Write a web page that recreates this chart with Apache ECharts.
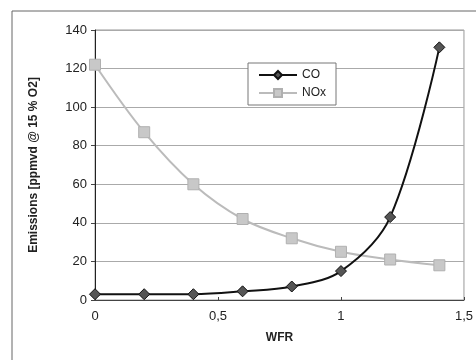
<!DOCTYPE html>
<html>
<head>
<meta charset="utf-8">
<script src="https://cdn.jsdelivr.net/npm/echarts@6/dist/echarts.min.js"></script>
<style>
  html, body { margin: 0; padding: 0; background: #fff; }
  #chart { width: 476px; height: 360px; }
</style>
</head>
<body>
<div id="chart"></div>
<script>
const wfr = [0, 0.2, 0.4, 0.6, 0.8, 1.0, 1.2, 1.4]
const co = [3, 3, 3, 4.5, 7, 15, 43, 131]
const nox = [122, 87, 60, 42, 32, 25, 21, 18]

const chart = echarts.init(document.getElementById('chart'))
const font = 'Liberation Sans, Arial, sans-serif'

chart.setOption({
  animation: false,
  backgroundColor: '#fff',
  graphic: [
    {
      type: 'rect',
      shape: { x: 12, y: 11, width: 480, height: 370 },
      style: { fill: 'none', stroke: '#666', lineWidth: 1 },
      z: -1
    }
  ],
  grid: { left: 95, right: 8, top: 30, bottom: 60, show: true, borderColor: '#999', borderWidth: 1 },
  legend: {
    orient: 'vertical',
    left: 248, top: 63,
    padding: [6, 10, 6, 10],
    itemGap: 6,
    itemWidth: 38, itemHeight: 10,
    borderColor: '#777', borderWidth: 1,
    backgroundColor: '#fff',
    textStyle: { fontFamily: font, fontSize: 12, color: '#222' },
    data: ['CO', 'NOx']
  },
  xAxis: {
    type: 'value',
    min: 0, max: 1.5, interval: 0.5,
    name: 'WFR', nameLocation: 'middle', nameGap: 32,
    nameTextStyle: { fontFamily: font, fontSize: 12, fontWeight: 'bold', color: '#222' },
    axisLine: { show: true, lineStyle: { color: '#444' } },
    axisTick: { show: true, inside: true, length: 3, lineStyle: { color: '#444' } },
    axisLabel: { fontFamily: font, fontSize: 13, color: '#222', margin: 10, formatter: v => String(v).replace('.', ',') },
    splitLine: { show: false }
  },
  yAxis: {
    type: 'value',
    min: 0, max: 140, interval: 20,
    name: 'Emissions [ppmvd @ 15 % O2]', nameLocation: 'middle', nameGap: 55,
    nameTextStyle: { fontFamily: font, fontSize: 12, fontWeight: 'bold', color: '#222' },
    axisLine: { show: true, lineStyle: { color: '#222' } },
    axisTick: { show: true, length: 4, lineStyle: { color: '#444' } },
    axisLabel: { fontFamily: font, fontSize: 13, color: '#222', margin: 8 },
    splitLine: { show: true, lineStyle: { color: '#aaa', width: 1 } }
  },
  series: [
    {
      name: 'CO',
      type: 'line',
      smooth: 0.35,
      data: wfr.map((x, i) => [x, co[i]]),
      symbol: 'diamond',
      symbolSize: 11,
      lineStyle: { color: '#111', width: 2 },
      itemStyle: { color: '#555', borderColor: '#111', borderWidth: 1 },
      z: 3
    },
    {
      name: 'NOx',
      type: 'line',
      smooth: 0.35,
      data: wfr.map((x, i) => [x, nox[i]]),
      symbol: 'rect',
      symbolSize: 11,
      lineStyle: { color: '#bbb', width: 2 },
      itemStyle: { color: '#c8c8c8', borderColor: '#b0b0b0', borderWidth: 1 },
      z: 2
    }
  ]
})
</script>
</body>
</html>
